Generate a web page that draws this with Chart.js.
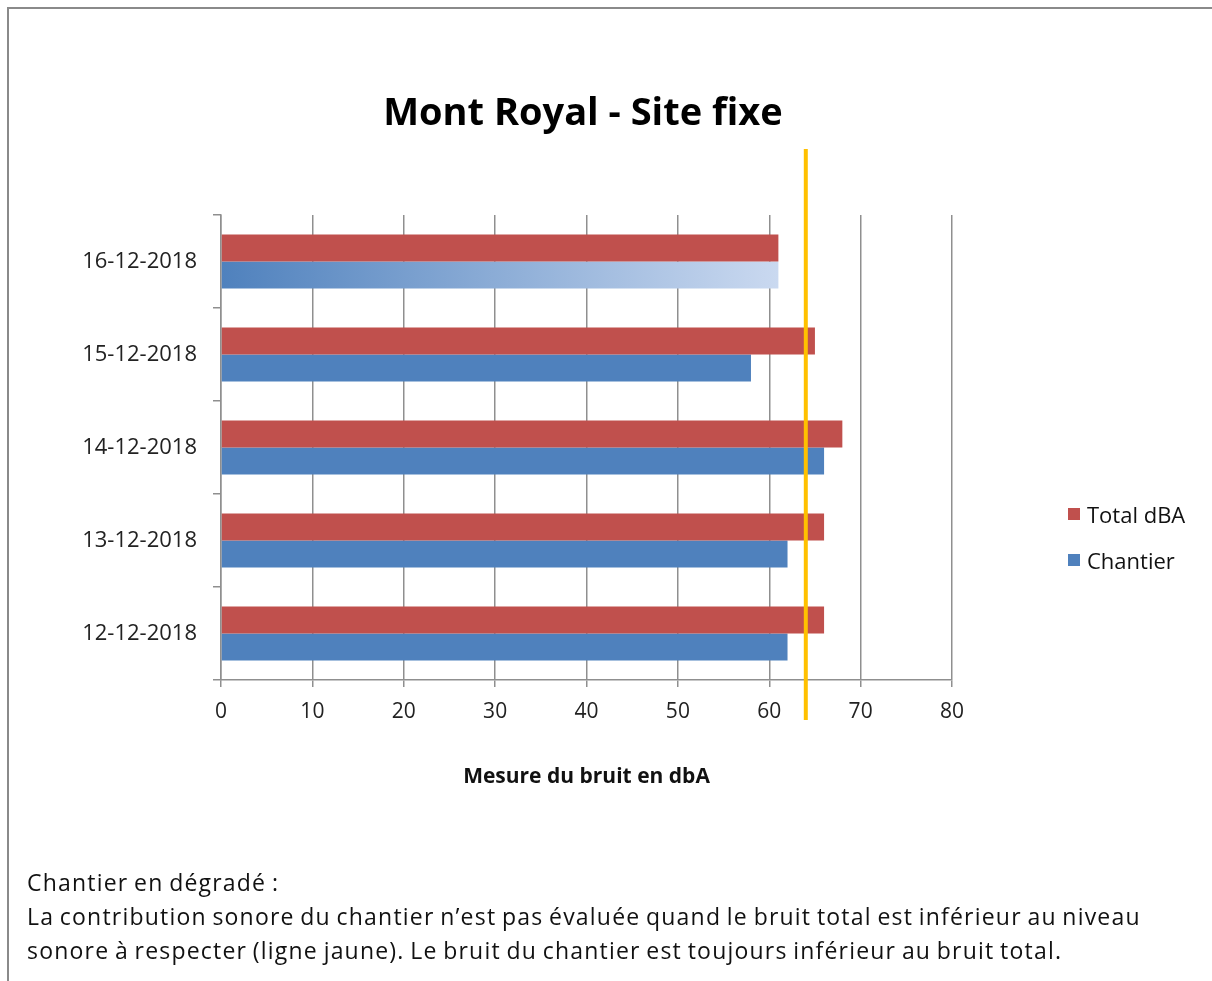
<!DOCTYPE html>
<html>
<head>
<meta charset="utf-8">
<script src="https://cdn.jsdelivr.net/npm/chart.js@4/dist/chart.umd.min.js"></script>
<style>
  body { margin: 0; background: #fff; width: 1212px; height: 981px; overflow: hidden; position: relative; font-family: "Open Sans", sans-serif; color: #111; }
  #frame { position: absolute; left: 7px; top: 7px; width: 1230px; height: 1000px; border-left: 2px solid #8a8a8a; border-top: 2px solid #8a8a8a; }
  #chart { position: absolute; left: 0; top: 0; }
  #title { position: absolute; left: 0; top: 88px; width: 1166px; text-align: center; font-weight: bold; font-size: 38px; line-height: 44px; color: #000; }
  #legend { position: absolute; left: 1068px; top: 499px; font-size: 22px; }
  #legend .item { display: flex; align-items: center; height: 30px; margin-bottom: 16px; }
  #legend .box { width: 12px; height: 12px; margin-right: 7px; }
  #note { position: absolute; left: 27px; top: 865px; font-size: 23px; line-height: 34px; letter-spacing: 1.2px; word-spacing: -1.5px; color: #111; }
</style>
</head>
<body>
<div id="frame"></div>
<canvas id="chart" width="1212" height="981"></canvas>
<div id="title">Mont Royal - Site fixe</div>
<div id="legend"></div>
<div id="note">
  <div>Chantier en dégradé :</div>
  <div>La contribution sonore du chantier n’est pas évaluée quand le bruit total est inférieur au niveau</div>
  <div>sonore à respecter (ligne jaune). Le bruit du chantier est toujours inférieur au bruit total.</div>
</div>
<script>
// days, top to bottom as in the chart
const categories = ["16-12-2018", "15-12-2018", "14-12-2018", "13-12-2018", "12-12-2018"];
const totalDbA = [61, 65, 68, 66, 66];
const chantier = [61, 58, 66, 62, 62];
// days where the site noise is not evaluated (drawn as a gradient)
const gradientDays = ["16-12-2018"];
// sound level to respect (yellow line)
const limitDbA = 64;
const xTicks = [0, 10, 20, 30, 40, 50, 60, 70, 80];

const RED = "#C0504D";
const BLUE = "#4F81BD";
const GRID = "#8f8f8f";

function chantierColor(ctx) {
  const chart = ctx.chart;
  if (ctx.type !== "data" || !chart.chartArea || !gradientDays.includes(categories[ctx.dataIndex])) {
    return BLUE;
  }
  const x = chart.scales.x;
  const g = chart.ctx.createLinearGradient(x.getPixelForValue(0), 0, x.getPixelForValue(ctx.raw), 0);
  g.addColorStop(0, BLUE);
  g.addColorStop(1, "#CAD9F0");
  return g;
}

const limitLine = {
  id: "limitLine",
  afterDatasetsDraw(chart) {
    const { ctx, chartArea } = chart;
    const x = chart.scales.x.getPixelForValue(limitDbA);
    ctx.save();
    ctx.strokeStyle = "#FFC000";
    ctx.lineWidth = 4;
    ctx.beginPath();
    ctx.moveTo(x, chartArea.top - 66);
    ctx.lineTo(x, chartArea.bottom + 40);
    ctx.stroke();
    ctx.restore();
  },
};

const chart = new Chart(document.getElementById("chart"), {
  type: "bar",
  data: {
    labels: categories,
    datasets: [
      { label: "Total dBA", data: totalDbA, backgroundColor: RED },
      { label: "Chantier", data: chantier, backgroundColor: chantierColor },
    ],
  },
  options: {
    indexAxis: "y",
    responsive: false,
    animation: false,
    devicePixelRatio: 1,
    categoryPercentage: 0.58,
    barPercentage: 1.0,
    layout: { padding: { left: 0, top: 215, right: 260, bottom: 191 } },
    scales: {
      x: {
        min: 0,
        max: 80,
        afterBuildTicks(scale) {
          scale.ticks = xTicks.map((v) => ({ value: v }));
        },
        afterFit(scale) {
          scale.height = 110;
        },
        grid: { color: GRID, lineWidth: 1.5, tickLength: 7 },
        border: { color: GRID, width: 1.5 },
        ticks: { color: "#222", font: { family: "Open Sans", size: 21 }, padding: 12 },
        title: {
          display: true,
          text: "Mesure du bruit en dbA",
          color: "#111",
          font: { family: "Open Sans", size: 21, weight: "bold" },
          padding: 0,
        },
      },
      y: {
        afterFit(scale) {
          scale.width = 221;
        },
        grid: { drawOnChartArea: false, color: GRID, lineWidth: 1.5, tickLength: 8, offset: true },
        border: { color: GRID, width: 1.5 },
        ticks: { color: "#222", font: { family: "Open Sans", size: 22 }, padding: 16 },
      },
    },
    plugins: {
      legend: { display: false },
      title: { display: false },
      tooltip: { enabled: false },
    },
  },
  plugins: [limitLine],
});

// legend on the right, built from the datasets
const legend = document.getElementById("legend");
chart.data.datasets.forEach((ds) => {
  const item = document.createElement("div");
  item.className = "item";
  const box = document.createElement("span");
  box.className = "box";
  box.style.background = ds.label === "Chantier" ? BLUE : ds.backgroundColor;
  const txt = document.createElement("span");
  txt.textContent = ds.label;
  item.append(box, txt);
  legend.append(item);
});
</script>
</body>
</html>
